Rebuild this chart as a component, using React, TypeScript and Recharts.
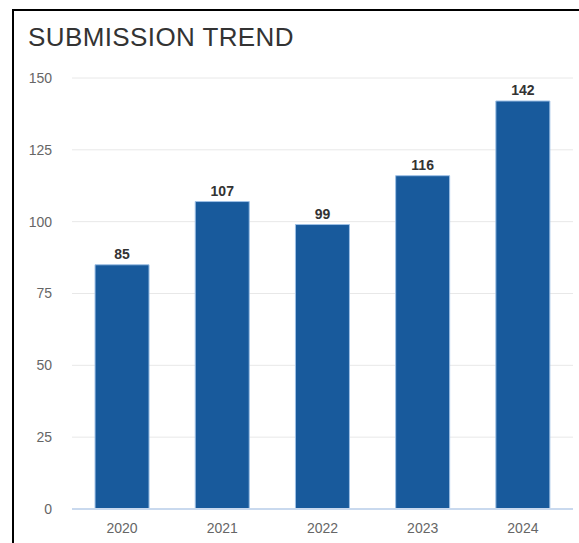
import { BarChart, Bar, XAxis, YAxis, CartesianGrid, LabelList } from 'recharts'

const years = ['2020', '2021', '2022', '2023', '2024']
const submissions = [85, 107, 99, 116, 142]
const yTicks = [0, 25, 50, 75, 100, 125, 150]

const data = years.map((year, i) => ({ year, count: submissions[i] }))

const font = 'Helvetica, Arial, "Liberation Sans", sans-serif'

export default function App() {
  return (
    <div style={{ position: 'absolute', left: 0, top: 0, width: 579, height: 543, overflow: 'hidden', background: '#fff', fontFamily: font }}>
      {/* card frame, only left and top edges are in view */}
      <div
        style={{
          position: 'absolute',
          left: 12,
          top: 9,
          width: 600,
          height: 600,
          borderLeft: '2px solid #000',
          borderTop: '2px solid #000',
        }}
      />
      <div
        style={{
          position: 'absolute',
          left: 28,
          top: 22,
          fontSize: 26,
          letterSpacing: 0.4,
          color: '#333',
          lineHeight: '30px',
        }}
      >
        SUBMISSION TREND
      </div>
      <div style={{ position: 'absolute', left: 0, top: 0 }}>
        <BarChart
          width={579}
          height={543}
          data={data}
          margin={{ top: 78, right: 6, left: 0, bottom: 4 }}
          barCategoryGap="23%"
        >
          <CartesianGrid vertical={false} stroke="#e8e8e8" />
          <XAxis
            dataKey="year"
            height={30}
            tickLine={false}
            axisLine={{ stroke: '#c9d9ee', strokeWidth: 2 }}
            tick={{ fontSize: 14, fill: '#666', fontFamily: font }}
            tickMargin={8}
          />
          <YAxis
            width={72}
            domain={[0, 150]}
            ticks={yTicks}
            axisLine={false}
            tickLine={false}
            tickMargin={14}
            tick={{ fontSize: 14, fill: '#666', fontFamily: font }}
          />
          <Bar dataKey="count" fill="#185a9c" stroke="#9ec0e6" strokeWidth={1} isAnimationActive={false}>
            <LabelList
              dataKey="count"
              position="top"
              offset={6}
              style={{ fontSize: 14, fontWeight: 700, fill: '#333', fontFamily: font }}
            />
          </Bar>
        </BarChart>
      </div>
    </div>
  )
}
